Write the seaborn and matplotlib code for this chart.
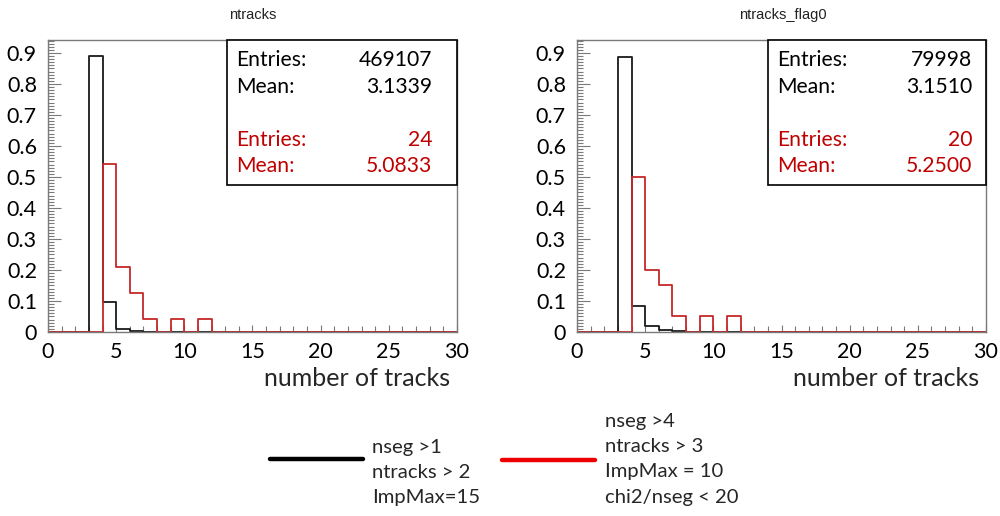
import numpy as np
import pandas as pd
import seaborn as sns
import matplotlib
matplotlib.use("Agg")
import matplotlib.pyplot as plt
from matplotlib.lines import Line2D
from matplotlib.patches import Rectangle
from matplotlib.ticker import MultipleLocator

# ---------------- data ----------------
panel_titles = ["ntracks", "ntracks_flag0"]
x_label = "number of tracks"
x_tick_values = [0, 5, 10, 15, 20, 25, 30]
x_tick_labels = ["0", "5", "10", "15", "20", "25", "30"]
y_tick_values = [0, 0.1, 0.2, 0.3, 0.4, 0.5, 0.6, 0.7, 0.8, 0.9]
y_tick_labels = ["0", "0.1", "0.2", "0.3", "0.4", "0.5", "0.6", "0.7", "0.8", "0.9"]

# left panel (ntracks)
black_vals_L = [3, 4, 5, 6, 7]
black_frac_L = [0.889, 0.097, 0.010, 0.003, 0.001]
red_vals_L = [4, 5, 6, 7, 9, 11]
red_counts_L = [13, 5, 3, 1, 1, 1]
stats_black_L = ["469107", "3.1339"]
stats_red_L = ["24", "5.0833"]

# right panel (ntracks_flag0)
black_vals_R = [3, 4, 5, 6, 7, 8]
black_frac_R = [0.888, 0.085, 0.018, 0.006, 0.002, 0.001]
red_vals_R = [4, 5, 6, 7, 9, 11]
red_counts_R = [10, 4, 3, 1, 1, 1]
stats_black_R = ["79998", "3.1510"]
stats_red_R = ["20", "5.2500"]

stat_names = ["Entries:", "Mean:"]
legend_black = ["nseg >1", "ntracks > 2", "ImpMax=15"]
legend_red = ["nseg >4", "ntracks > 3", "ImpMax = 10", "chi2/nseg < 20"]

# ---------------- style ----------------
sns.set_style("white")
plt.rcParams["font.family"] = ["Lato", "DejaVu Sans"]

BLACK_H = "#1a1a1a"
RED_H = "#c62828"
RED_T = "#c00000"
RED_LEG = "#ee0000"
FRAME = "#7a7a7a"
UI_FONT = ["Lato", "DejaVu Sans"]
TITLE_FONT = ["Liberation Sans Narrow", "Liberation Sans", "DejaVu Sans"]

fig = plt.figure(figsize=(10, 5.16), dpi=100)

axes_rects = [[0.048, 0.3566, 0.409, 0.566], [0.577, 0.3566, 0.409, 0.566]]
title_x = [0.253, 0.783]
stat_layout = [
    dict(box_left=0.4377, text_left=0.46, val_right=0.939),
    dict(box_left=0.467, text_left=0.489, val_right=0.966),
]

panels = [
    (black_vals_L, black_frac_L, red_vals_L, red_counts_L, stats_black_L, stats_red_L),
    (black_vals_R, black_frac_R, red_vals_R, red_counts_R, stats_black_R, stats_red_R),
]

for i, (bv, bf, rv, rc, sb, sr) in enumerate(panels):
    ax = fig.add_axes(axes_rects[i])
    dfb = pd.DataFrame({"n": bv, "w": bf})
    rc_arr = np.array(rc, dtype=float)
    dfr = pd.DataFrame({"n": rv, "w": rc_arr / rc_arr.sum()})
    sns.histplot(data=dfb, x="n", weights="w", bins=30, binrange=(0, 30),
                 element="step", fill=False, color=BLACK_H, linewidth=1.3, ax=ax)
    sns.histplot(data=dfr, x="n", weights="w", bins=30, binrange=(0, 30),
                 element="step", fill=False, color=RED_H, linewidth=1.3, ax=ax)
    ax.set_xlim(0, 30)
    ax.set_ylim(0, 0.942)
    ax.set_xticks(x_tick_values)
    ax.set_xticklabels(x_tick_labels)
    ax.set_yticks(y_tick_values)
    ax.set_yticklabels(y_tick_labels)
    ax.xaxis.set_minor_locator(MultipleLocator(1))
    ax.yaxis.set_minor_locator(MultipleLocator(0.01))
    ax.tick_params(axis="both", which="both", direction="in", colors=FRAME,
                   labelcolor="black", labelsize=15.5, width=0.8,
                   bottom=True, left=True, top=False, right=False)
    ax.tick_params(axis="x", which="major", length=5, pad=7)
    ax.tick_params(axis="x", which="minor", length=4)
    ax.tick_params(axis="y", which="major", length=9, pad=8)
    ax.tick_params(axis="y", which="minor", length=4)
    for s in ax.spines.values():
        s.set_color(FRAME)
        s.set_linewidth(1.0)
    ax.set_ylabel("")
    ax.set_xlabel(x_label, fontsize=18, loc="right", family=UI_FONT)
    ax.xaxis.set_label_coords(0.983, -0.12)

    # title
    fig.text(title_x[i], 1 - 15 / 516, panel_titles[i], ha="center", va="center",
             fontsize=10.5, family=TITLE_FONT, color="#222222")

    # stats box
    L = stat_layout[i]
    ax.add_patch(Rectangle((L["box_left"], 0.503), 1.0 - L["box_left"], 0.497,
                           transform=ax.transAxes, facecolor="white",
                           edgecolor="black", linewidth=1.2, zorder=5, clip_on=False))
    rows_y = [0.932, 0.839, 0.658, 0.568]
    rows = [(stat_names[0], sb[0], "black"), (stat_names[1], sb[1], "black"),
            (stat_names[0], sr[0], RED_T), (stat_names[1], sr[1], RED_T)]
    for y, (nm, val, col) in zip(rows_y, rows):
        ax.text(L["text_left"], y, nm, transform=ax.transAxes, ha="left", va="center",
                fontsize=15.2, color=col, zorder=6, family=UI_FONT)
        ax.text(L["val_right"], y, val, transform=ax.transAxes, ha="right", va="center",
                fontsize=15.2, color=col, zorder=6, family=UI_FONT)

# ---------------- legend ----------------
fig.add_artist(Line2D([0.27, 0.363], [1 - 459 / 516] * 2, color="black", linewidth=3.2))
fig.add_artist(Line2D([0.502, 0.595], [1 - 460 / 516] * 2, color=RED_LEG, linewidth=3.2))
leg_black_y = [447, 472, 497]
leg_red_y = [422, 447, 472, 497]
for txt, y in zip(legend_black, leg_black_y):
    fig.text(0.372, 1 - y / 516, txt, ha="left", va="center", fontsize=14.6, family=UI_FONT)
for txt, y in zip(legend_red, leg_red_y):
    fig.text(0.605, 1 - y / 516, txt, ha="left", va="center", fontsize=14.6, family=UI_FONT)

fig.savefig("out.png", dpi=100)
